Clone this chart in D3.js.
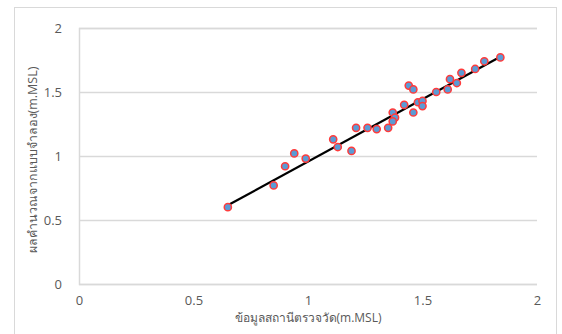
<!DOCTYPE html>
<html>
<head>
<meta charset="utf-8">
<script src="https://cdn.jsdelivr.net/npm/d3@7/dist/d3.min.js"></script>
<style>
  html, body { margin: 0; padding: 0; background: #fff; }
  svg { display: block; }
  text { font-family: "Segoe UI", "Open Sans", "Noto Sans", Tahoma, sans-serif; fill: #595959; }
</style>
</head>
<body>
<svg id="chart" width="562" height="334"></svg>
<script>
// ---- data ----
const obsX = [0.65, 0.85, 0.90, 0.94, 0.99, 1.11, 1.13, 1.19, 1.21, 1.26, 1.30, 1.35, 1.37, 1.38, 1.37,
              1.42, 1.44, 1.46, 1.46, 1.48, 1.50, 1.50, 1.56, 1.61, 1.62, 1.65, 1.67, 1.73, 1.77, 1.84];
const simY = [0.60, 0.77, 0.92, 1.02, 0.98, 1.13, 1.07, 1.04, 1.22, 1.22, 1.21, 1.22, 1.34, 1.30, 1.27,
              1.40, 1.55, 1.52, 1.34, 1.42, 1.43, 1.39, 1.50, 1.52, 1.60, 1.57, 1.65, 1.68, 1.74, 1.77];
const trendX = [0.65, 1.84];
const trendY = [0.615, 1.775];
const xTicks = [0, 0.5, 1, 1.5, 2];
const yTicks = [0, 0.5, 1, 1.5, 2];
const xTitle = "ข้อมูลสถานีตรวจวัด(m.MSL)";
const yTitle = "ผลคำนวณจากแบบจำลอง(m.MSL)";

const svg = d3.select("#chart");
const plot = { left: 79, right: 537, top: 28, bottom: 284 };

// chart border
svg.append("rect")
  .attr("x", 14.5).attr("y", 7.5)
  .attr("width", 542).attr("height", 340)
  .attr("fill", "#fff").attr("stroke", "#d9d9d9").attr("stroke-width", 1);

const x = d3.scaleLinear().domain([0, 2]).range([plot.left, plot.right]);
const y = d3.scaleLinear().domain([0, 2]).range([plot.bottom, plot.top]);

// horizontal gridlines + y labels
const yAxis = d3.axisLeft(y).tickValues(yTicks).tickFormat(d3.format("")).tickSize(-(plot.right - plot.left)).tickPadding(17);
const gy = svg.append("g").attr("transform", `translate(${plot.left},0)`).call(yAxis);
gy.select(".domain").attr("stroke", "#d9d9d9").attr("stroke-width", 1.5);
gy.selectAll(".tick line").attr("stroke", "#d9d9d9").attr("stroke-width", 1.5);
gy.selectAll(".tick text").attr("font-size", 13).attr("fill", "#595959");

// x labels
const xAxis = d3.axisBottom(x).tickValues(xTicks).tickFormat(d3.format("")).tickSize(0).tickPadding(12);
const gx = svg.append("g").attr("transform", `translate(0,${plot.bottom})`).call(xAxis);
gx.select(".domain").remove();
gx.selectAll(".tick text").attr("font-size", 13).attr("fill", "#595959");

// trendline
const line = d3.line().x((d, i) => x(trendX[i])).y((d, i) => y(trendY[i]));
svg.append("path")
  .datum(trendX)
  .attr("d", line)
  .attr("fill", "none")
  .attr("stroke", "#000")
  .attr("stroke-width", 2.25);

// points
svg.append("g").selectAll("circle")
  .data(obsX.map((v, i) => ({ x: v, y: simY[i] })))
  .join("circle")
  .attr("cx", d => x(d.x))
  .attr("cy", d => y(d.y))
  .attr("r", 3.6)
  .attr("fill", "#5b9bd5")
  .attr("stroke", "#ff3b3b")
  .attr("stroke-width", 1.5);

// axis titles
svg.append("text")
  .attr("x", (plot.left + plot.right) / 2)
  .attr("y", 322)
  .attr("text-anchor", "middle")
  .attr("font-size", 12)
  .text(xTitle);

svg.append("text")
  .attr("transform", `translate(37,${(plot.top + plot.bottom) / 2 + 4}) rotate(-90)`)
  .attr("text-anchor", "middle")
  .attr("font-size", 12.5)
  .text(yTitle);
</script>
</body>
</html>
